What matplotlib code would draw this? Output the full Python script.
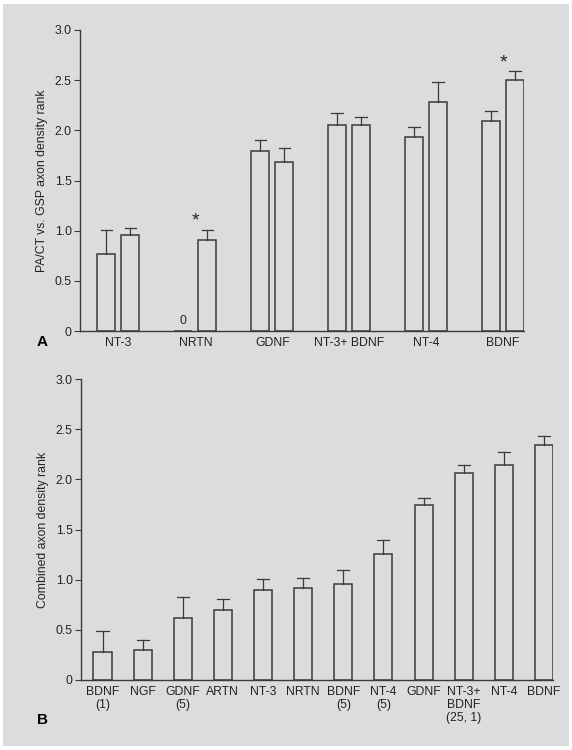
import numpy as np
import matplotlib
matplotlib.use('Agg')
from matplotlib import pyplot as plt
from matplotlib.patches import Rectangle

plt.rcParams['font.family'] = ['Liberation Sans', 'DejaVu Sans']

# panel A data (two bars per treatment)
groups_a = ['NT-3', 'NRTN', 'GDNF', 'NT-3+ BDNF', 'NT-4', 'BDNF']
first_a = [0.77, 0.0, 1.79, 2.05, 1.93, 2.09]
first_a_top = [1.01, 0.0, 1.90, 2.17, 2.03, 2.19]
second_a = [0.96, 0.91, 1.68, 2.05, 2.28, 2.50]
second_a_top = [1.03, 1.01, 1.82, 2.13, 2.48, 2.59]
star_groups_a = [1, 5]

# panel B data
labels_b = ['BDNF\n(1)', 'NGF', 'GDNF\n(5)', 'ARTN', 'NT-3', 'NRTN', 'BDNF\n(5)',
            'NT-4\n(5)', 'GDNF', 'NT-3+\nBDNF\n(25, 1)', 'NT-4', 'BDNF']
values_b = [0.28, 0.30, 0.62, 0.70, 0.90, 0.92, 0.96, 1.26, 1.74, 2.06, 2.14, 2.34]
tops_b = [0.49, 0.40, 0.83, 0.81, 1.01, 1.02, 1.10, 1.40, 1.81, 2.14, 2.27, 2.43]

yticks = [0, 0.5, 1.0, 1.5, 2.0, 2.5, 3.0]
ytick_labels = ['0', '0.5', '1.0', '1.5', '2.0', '2.5', '3.0']

bg = '#dcdcdc'
ink = '#3a3a3a'
txt = '#222222'
fs = 8.8

fig = plt.figure(figsize=(5.72, 7.5), dpi=100, facecolor='white')
fig.patches.append(Rectangle((3 / 572, 4 / 750), 566 / 572, 742 / 750,
                             transform=fig.transFigure, facecolor=bg,
                             edgecolor='none', zorder=-10))


def style_axes(ax):
    ax.set_facecolor('none')
    for s in ['top', 'right']:
        ax.spines[s].set_visible(False)
    for s in ['left', 'bottom']:
        ax.spines[s].set_color(ink)
        ax.spines[s].set_linewidth(1.0)
    ax.set_ylim(0, 3.0)
    ax.set_yticks(yticks)
    ax.set_yticklabels(ytick_labels)
    ax.tick_params(axis='y', direction='out', length=4, width=0.8, color=ink,
                   labelsize=fs, pad=2, labelcolor=txt)
    ax.tick_params(axis='x', length=0, labelsize=fs, pad=4, labelcolor=txt)


def draw_err(ax, xs, vals, tops, capw):
    for x, v, t in zip(xs, vals, tops):
        if t <= v:
            continue
        ax.plot([x, x], [v, t], color=ink, lw=0.9, zorder=1)
        ax.plot([x - capw / 2, x + capw / 2], [t, t], color=ink, lw=0.9, zorder=1)


# ---- panel A ----
axA = fig.add_axes([80 / 572, 1 - 331 / 750, 444 / 572, 301 / 750])
style_axes(axA)
xa = np.arange(len(groups_a))
w = 0.235
off = 0.156
x1 = xa - off
x2 = xa + off
draw_err(axA, x1, first_a, first_a_top, 0.15)
draw_err(axA, x2, second_a, second_a_top, 0.15)
axA.bar(x1, first_a, width=w, facecolor='none', edgecolor=ink, lw=1.1, zorder=2)
axA.bar(x2, second_a, width=w, facecolor='none', edgecolor=ink, lw=1.1, zorder=2)
for i, v in enumerate(first_a):
    if v == 0:
        axA.text(x1[i], 0.04, '0', ha='center', va='bottom', fontsize=fs, color=txt)
for g in star_groups_a:
    axA.text(xa[g], second_a_top[g] + 0.0, '*', ha='center', va='bottom',
             fontsize=14, color=txt)
axA.set_xlim(-0.5, 5.273)
axA.set_xticks(xa)
axA.set_xticklabels(groups_a)
axA.set_ylabel('PA/CT vs. GSP axon density rank', fontsize=fs, color=txt, labelpad=5)
fig.text(42 / 572, 1 - 342 / 750, 'A', fontsize=11, fontweight='bold', ha='center', va='center')

# ---- panel B ----
axB = fig.add_axes([81 / 572, 1 - 680 / 750, 472 / 572, 301 / 750])
style_axes(axB)
xb = np.arange(len(values_b))
draw_err(axB, xb, values_b, tops_b, 0.3)
axB.bar(xb, values_b, width=0.45, facecolor='none', edgecolor=ink, lw=1.1, zorder=2)
axB.set_xlim(-0.536, 11.226)
axB.set_xticks(xb)
axB.set_xticklabels(labels_b, linespacing=1.15, va='top')
axB.set_ylabel('Combined axon density rank', fontsize=fs, color=txt, labelpad=5)
fig.text(42 / 572, 1 - 720 / 750, 'B', fontsize=11, fontweight='bold', ha='center', va='center')

fig.savefig('out.png', dpi=100, facecolor='white')
